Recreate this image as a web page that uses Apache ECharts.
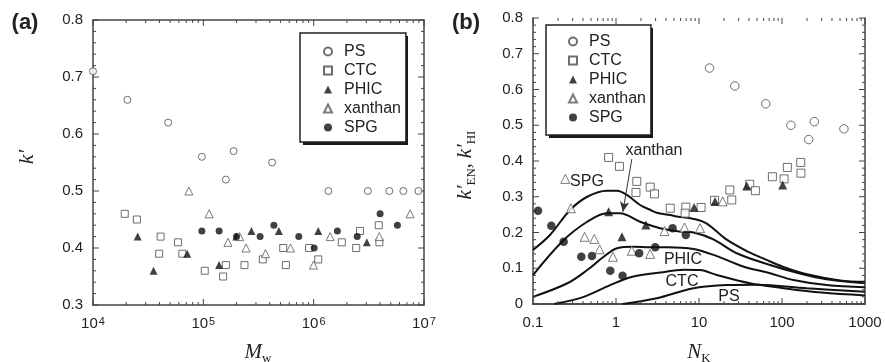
<!DOCTYPE html>
<html>
<head>
<meta charset="utf-8">
<script src="https://cdn.jsdelivr.net/npm/echarts@6/dist/echarts.min.js"></script>
<style>
	html, body {margin: 0; padding: 0; background: #fff;}
	#chart {width: 885px; height: 362px;}
</style>
</head>
<body>
<div id="chart"></div>
<script>
// ---- panel (a): k' vs Mw ----
const psA_x = [1.0e4, 2.05e4, 4.8e4, 9.7e4, 1.6e5, 1.88e5, 4.2e5, 1.36e6, 3.1e6, 4.85e6, 6.5e6, 8.9e6]
const psA_y = [0.71, 0.66, 0.62, 0.56, 0.52, 0.57, 0.55, 0.50, 0.50, 0.50, 0.50, 0.50]
const ctcA_x = [1.94e4, 2.5e4, 3.98e4, 4.1e4, 5.9e4, 6.45e4, 1.03e5, 1.51e5, 1.6e5, 2.36e5, 3.46e5, 5.3e5, 5.6e5, 9.1e5, 1.1e6, 1.8e6, 2.43e6, 2.63e6, 3.89e6, 3.94e6]
const ctcA_y = [0.46, 0.45, 0.39, 0.42, 0.41, 0.39, 0.36, 0.35, 0.37, 0.37, 0.38, 0.40, 0.37, 0.40, 0.38, 0.41, 0.40, 0.43, 0.44, 0.41]
const phicA_x = [2.54e4, 3.54e4, 7.15e4, 1.39e5, 1.99e5, 2.73e5, 4.84e5, 1.1e6, 3.03e6]
const phicA_y = [0.42, 0.36, 0.39, 0.37, 0.42, 0.43, 0.43, 0.43, 0.41]
const xanA_x = [7.4e4, 1.13e5, 1.67e5, 2.13e5, 2.44e5, 3.66e5, 6.17e5, 9.96e5, 1.41e6, 3.94e6, 7.48e6]
const xanA_y = [0.50, 0.46, 0.41, 0.42, 0.40, 0.39, 0.40, 0.37, 0.42, 0.42, 0.46]
const spgA_x = [9.7e4, 1.39e5, 2.0e5, 3.27e5, 4.36e5, 7.33e5, 1.01e6, 1.64e6, 2.48e6, 4.0e6, 5.74e6]
const spgA_y = [0.43, 0.43, 0.42, 0.42, 0.44, 0.42, 0.40, 0.43, 0.42, 0.46, 0.44]

// ---- panel (b): k'EN, k'HI vs NK ----
const psB_x = [13.4, 27, 63.7, 128, 210, 245, 557]
const psB_y = [0.66, 0.61, 0.56, 0.50, 0.46, 0.51, 0.49]
const ctcB_x = [0.815, 1.10, 1.78, 1.74, 2.58, 2.91, 4.5, 6.94, 6.8, 10.6, 15.4, 23.5, 24.8, 40.8, 47.8, 76.6, 106, 116, 168, 169]
const ctcB_y = [0.41, 0.385, 0.343, 0.312, 0.327, 0.308, 0.268, 0.271, 0.254, 0.27, 0.29, 0.319, 0.291, 0.335, 0.317, 0.356, 0.35, 0.382, 0.396, 0.366]
const phicB_x = [0.815, 1.18, 2.29, 8.73, 15.6, 37.6, 102]
const phicB_y = [0.258, 0.188, 0.221, 0.27, 0.287, 0.33, 0.333]
const xanB_x = [0.245, 0.286, 0.419, 0.547, 0.634, 0.918, 1.55, 2.58, 3.84, 6.68, 10.3, 19.3]
const xanB_y = [0.35, 0.268, 0.188, 0.182, 0.153, 0.132, 0.149, 0.14, 0.204, 0.214, 0.212, 0.287]
const spgB_x = [0.115, 0.166, 0.234, 0.382, 0.513, 0.853, 1.2, 1.9, 2.97, 4.8, 6.94]
const spgB_y = [0.261, 0.219, 0.174, 0.132, 0.134, 0.093, 0.079, 0.142, 0.159, 0.212, 0.193]

// theory curves in (b)
const curveSPG_x = [0.1, 0.16, 0.28, 0.45, 0.78, 1.03, 1.35, 1.95, 2.6, 3.1, 4.5, 5.4, 8.6, 12.4, 21.6, 40, 63, 100, 200, 500, 1000]
const curveSPG_y = [0.151, 0.193, 0.263, 0.30, 0.317, 0.317, 0.305, 0.277, 0.263, 0.255, 0.249, 0.245, 0.238, 0.225, 0.18, 0.145, 0.125, 0.105, 0.083, 0.066, 0.062]
const curveXan_x = [0.1, 0.23, 0.45, 0.78, 1.12, 1.95, 3.4, 5.9, 8.6, 14.9, 28.5, 72, 137, 344, 1000]
const curveXan_y = [0.081, 0.177, 0.23, 0.254, 0.254, 0.23, 0.212, 0.203, 0.2, 0.181, 0.142, 0.109, 0.09, 0.069, 0.058]
const curvePHIC_x = [0.1, 0.26, 0.45, 0.71, 1.03, 1.62, 2.6, 4.1, 8.6, 16.4, 34, 72, 137, 344, 1000]
const curvePHIC_y = [0.02, 0.058, 0.095, 0.132, 0.156, 0.16, 0.159, 0.159, 0.154, 0.134, 0.105, 0.086, 0.067, 0.053, 0.047]
const curveCTC_x = [0.18, 0.41, 0.85, 1.62, 3.4, 6.5, 10.3, 16.4, 41, 100, 300, 1000]
const curveCTC_y = [0, 0.02, 0.053, 0.077, 0.088, 0.096, 0.095, 0.081, 0.058, 0.045, 0.032, 0.024]
const curvePS_x = [1.2, 3.1, 8.6, 21.6, 50, 200, 1000]
const curvePS_y = [0, 0.016, 0.044, 0.053, 0.054, 0.044, 0.034]

// tick labels
const xExpA = [4, 5, 6, 7]
const xTicksB = ['0.1', '1', '10', '100', '1000']
const yTicksA = ['0.3', '0.4', '0.5', '0.6', '0.7', '0.8']
const yTicksB = ['0', '0.1', '0.2', '0.3', '0.4', '0.5', '0.6', '0.7', '0.8']

const legendNames = ['PS', 'CTC', 'PHIC', 'xanthan', 'SPG']

const sans = '"Liberation Sans", Arial, sans-serif'
const serif = '"Liberation Serif", "Times New Roman", serif'
const ink = '#222'
const frame = '#444'

const zip = (xs, ys) => xs.map((x, i) => [x, ys[i]])

// tick positions on a log axis: [value, length] for decades and 2..9 between them
const logTicks = (lo, hi) => {
	const out = []
	for (let p = lo; p <= hi; p++) {
		out.push([Math.pow(10, p), 6])
		if (p < hi) for (let m = 2; m <= 9; m++) out.push([m * Math.pow(10, p), 3])
	}
	return out
}
// value axis ticks every 0.02, long ones every 0.1 (i counts fiftieths)
const linTicks = (from, to) => {
	const out = []
	for (let i = from; i <= to; i++) out.push([i / 50, i % 5 === 0 ? 6 : 3])
	return out
}

const tickLabel = {fontSize: 15, color: ink, fontFamily: sans}
const line = {show: true, lineStyle: {color: frame, width: 1.5}}
const plain = {splitLine: {show: false}, axisTick: {show: false}, axisLine: line}

const xAxes = (grid, min, max, label) => {
	const base = {type: 'log', logBase: 10, gridIndex: grid, min, max, ...plain}
	return [
		{...base, position: 'bottom', axisLabel: {...tickLabel, margin: 11, ...label}},
		{...base, position: 'top', axisLabel: {show: false}},
	]
}

const yAxes = (grid, min, max, formatter) => {
	const base = {type: 'value', gridIndex: grid, min, max, interval: 0.1, ...plain}
	return [
		{...base, position: 'left', axisLabel: {...tickLabel, margin: 10, formatter}},
		{...base, position: 'right', axisLabel: {show: false}},
	]
}

// inward ticks on all four sides; the axis' own inside ticks don't draw in this build,
// so they are placed through the axes' scales by a custom series
const tickSeries = (xi, yi, ticks, dir, xr, yr) => ({
	type: 'custom', xAxisIndex: xi, yAxisIndex: yi, silent: true, z: 4, clip: false,
	encode: {x: 0, y: 1},
	data: ticks.map(([v, len]) => dir === 'x' ? [v, yr[0], len] : [xr[0], v, len]),
	renderItem: (params, api) => {
		const v = api.value(dir === 'x' ? 0 : 1)
		const len = api.value(2)
		const st = {stroke: frame, lineWidth: 1}
		if (dir === 'x') {
			const b = api.coord([v, yr[0]])
			const t = api.coord([v, yr[1]])
			return {type: 'group', children: [
				{type: 'line', shape: {x1: b[0], y1: b[1], x2: b[0], y2: b[1] - len}, style: st},
				{type: 'line', shape: {x1: t[0], y1: t[1], x2: t[0], y2: t[1] + len}, style: st},
			]}
		}
		const l = api.coord([xr[0], v])
		const r = api.coord([xr[1], v])
		return {type: 'group', children: [
			{type: 'line', shape: {x1: l[0], y1: l[1], x2: l[0] + len, y2: l[1]}, style: st},
			{type: 'line', shape: {x1: r[0], y1: r[1], x2: r[0] - len, y2: r[1]}, style: st},
		]}
	},
})

const openStyle = {color: '#fff', borderColor: '#4a4a4a', borderWidth: 1}
const fillStyle = {color: '#111'}

const markers = {
	PS: {symbol: 'circle', itemStyle: openStyle},
	CTC: {symbol: 'rect', itemStyle: openStyle},
	PHIC: {symbol: 'triangle', itemStyle: fillStyle},
	xanthan: {symbol: 'triangle', itemStyle: {...openStyle, borderColor: '#5a5a5a'}},
	SPG: {symbol: 'circle', itemStyle: fillStyle},
}

const scatter = (name, xs, ys, xi, yi, size) => ({
	name, type: 'scatter', xAxisIndex: xi, yAxisIndex: yi,
	symbol: markers[name].symbol,
	symbolSize: markers[name].symbol === 'triangle' ? size + 1 : size,
	itemStyle: markers[name].itemStyle,
	data: zip(xs, ys),
	z: 5,
	emphasis: {disabled: true},
})

const curve = (name, xs, ys, extra) => ({
	name, type: 'line', xAxisIndex: 2, yAxisIndex: 2,
	data: zip(xs, ys),
	smooth: 0.35,
	showSymbol: false,
	lineStyle: {color: '#111', width: 2},
	z: 3,
	emphasis: {disabled: true},
	...extra,
})

// legend box; a dark rect drawn 3px lower-right gives the drop shadow
const legend = (left, top, padding) => ({
	orient: 'vertical', left, top, padding,
	data: legendNames,
	itemWidth: 8, itemHeight: 8, itemGap: 0,
	backgroundColor: '#fff', borderColor: ink, borderWidth: 1.5,
	selectedMode: false,
	z: 6,
	textStyle: {fontSize: 16, lineHeight: 19, color: ink, fontFamily: sans, padding: [0, 0, 0, 7]},
})

const shadow = (x, y, w, h) => ({
	type: 'rect', z: 1, silent: true,
	shape: {x: x + 3, y: y + 3, width: w, height: h},
	style: {fill: '#1a1a1a'},
})

const text = (x, y, str, font, extra) => ({
	type: 'text', x, y, z: 10, ...extra,
	style: {text: str, font, fill: ink, align: 'center', verticalAlign: 'middle'},
})

const axisTitleRich = {
	i: {fontFamily: serif, fontStyle: 'italic', fontSize: 21, lineHeight: 26, verticalAlign: 'middle', fill: ink},
	s: {fontFamily: serif, fontSize: 13, lineHeight: 16, verticalAlign: 'bottom', fill: ink},
	n: {fontFamily: serif, fontSize: 20, lineHeight: 26, verticalAlign: 'middle', fill: ink},
}

const chart = echarts.init(document.getElementById('chart'), null, {renderer: 'canvas'})

chart.setOption({
	animation: false,
	backgroundColor: '#fff',
	grid: [
		{left: 93, right: 461, top: 20, bottom: 57},
		{left: 533, right: 20, top: 18, bottom: 58},
	],
	xAxis: [
		...xAxes(0, 1e4, 1e7, {
			formatter: v => '10{sup|' + xExpA[Math.round(Math.log10(v)) - 4] + '}',
			rich: {sup: {fontSize: 11, color: ink, fontFamily: sans, verticalAlign: 'top', lineHeight: 10, padding: [0, 0, 0, 1]}},
		}),
		...xAxes(1, 0.1, 1000, {
			formatter: v => xTicksB[Math.round(Math.log10(v)) + 1],
		}),
	],
	yAxis: [
		...yAxes(0, 0.3, 0.8, v => yTicksA[Math.round((v - 0.3) * 10)]),
		...yAxes(1, 0, 0.8, v => yTicksB[Math.round(v * 10)]),
	],
	legend: [
		legend(300, 33, [9, 5, 5, 23]),
		legend(546, 25, [7, 5, 8, 22]),
	],
	series: [
		tickSeries(0, 0, logTicks(4, 7), 'x', [1e4, 1e7], [0.3, 0.8]),
		tickSeries(0, 0, linTicks(15, 40), 'y', [1e4, 1e7], [0.3, 0.8]),
		tickSeries(2, 2, logTicks(-1, 3), 'x', [0.1, 1000], [0, 0.8]),
		tickSeries(2, 2, linTicks(0, 40), 'y', [0.1, 1000], [0, 0.8]),
		scatter('PS', psA_x, psA_y, 0, 0, 7),
		scatter('CTC', ctcA_x, ctcA_y, 0, 0, 7),
		scatter('PHIC', phicA_x, phicA_y, 0, 0, 7),
		scatter('xanthan', xanA_x, xanA_y, 0, 0, 7),
		scatter('SPG', spgA_x, spgA_y, 0, 0, 7),
		scatter('PS', psB_x, psB_y, 2, 2, 8.5),
		scatter('CTC', ctcB_x, ctcB_y, 2, 2, 8),
		scatter('PHIC', phicB_x, phicB_y, 2, 2, 8),
		scatter('xanthan', xanB_x, xanB_y, 2, 2, 8),
		scatter('SPG', spgB_x, spgB_y, 2, 2, 8.5),
		curve('SPG theory', curveSPG_x, curveSPG_y),
		curve('xanthan theory', curveXan_x, curveXan_y, {
			markLine: {
				silent: true,
				symbol: ['none', 'arrow'],
				symbolSize: [7, 10],
				label: {show: false},
				lineStyle: {color: '#333', width: 1, type: 'solid'},
				data: [[{coord: [1.55, 0.405]}, {coord: [1.21, 0.258]}]],
			},
		}),
		curve('PHIC theory', curvePHIC_x, curvePHIC_y),
		curve('CTC theory', curveCTC_x, curveCTC_y),
		curve('PS theory', curvePS_x, curvePS_y),
	],
	graphic: [
		shadow(300, 33, 105, 109),
		shadow(546, 25, 104, 110),
		text(25, 23, '(a)', 'bold 22px ' + sans),
		text(466, 23, '(b)', 'bold 22px ' + sans),
		text(27, 157, "k\u2032", 'italic 22px ' + serif, {rotation: Math.PI / 2}),
		{type: 'text', x: 258, y: 352, z: 10, style: {text: '{i|M}{s|w}', rich: axisTitleRich, align: 'center', verticalAlign: 'middle'}},
		{type: 'text', x: 699, y: 352, z: 10, style: {text: '{i|N}{s|K}', rich: axisTitleRich, align: 'center', verticalAlign: 'middle'}},
		{type: 'text', x: 465, y: 165, z: 10, rotation: Math.PI / 2,
			style: {text: '{i|k\u2032}{s|EN}{n|, }{i|k\u2032}{s|HI}', rich: axisTitleRich, align: 'center', verticalAlign: 'middle'}},
		text(587, 182, 'SPG', '16px ' + sans),
		text(654, 151, 'xanthan', '16px ' + sans),
		text(683, 260, 'PHIC', '16px ' + sans),
		text(682, 282, 'CTC', '16px ' + sans),
		text(729, 297, 'PS', '16px ' + sans),
	],
})
</script>
</body>
</html>
